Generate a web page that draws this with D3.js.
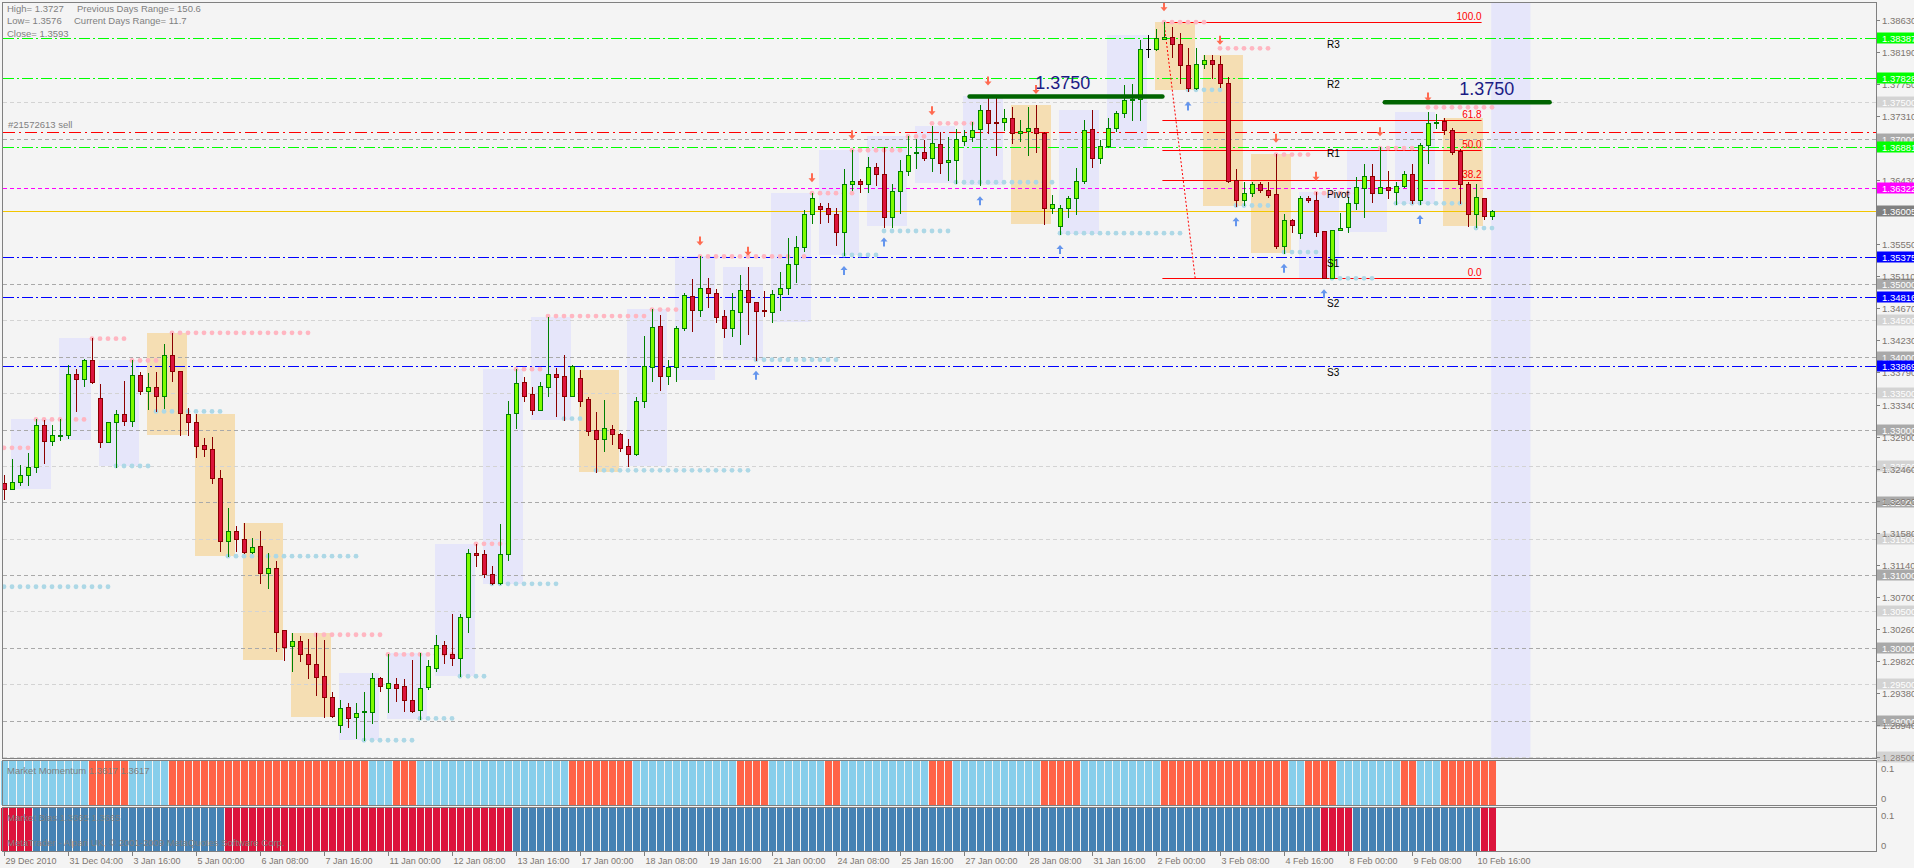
<!DOCTYPE html>
<html><head><meta charset="utf-8">
<script src="https://cdn.jsdelivr.net/npm/d3@7"></script>
<style>
html,body{margin:0;padding:0;background:#f4f4f4;overflow:hidden;}
svg{display:block;}
text{font-family:"Liberation Sans",Arial,sans-serif;}
</style></head><body>
<svg id="c" width="1914" height="868"></svg>
<script>
// ---------- DATA (EURUSD H4, 29 Dec 2010 20:00 .. 11 Feb 2011 00:00) ----------
const opens = [1.3227,1.3219,1.3228,1.3237,1.3248,1.3307,1.3284,1.3292,1.3292,1.3376,
1.3370,1.3395,1.3344,1.3283,1.3311,1.3322,1.3312,1.3375,1.3353,1.3358,
1.3346,1.3402,1.3380,1.3322,1.3311,1.3279,1.3273,1.3234,1.3147,1.3161,
1.3150,1.3132,1.3140,1.3103,1.3110,1.3024,1.3002,1.3009,1.2991,1.2978,
1.2961,1.2932,1.2894,1.2919,1.2905,1.2912,1.2912,1.2958,1.2945,1.2951,
1.2947,1.2929,1.2915,1.2946,1.2973,1.3004,1.2992,1.2986,1.3043,1.3131,
1.3129,1.3102,1.3089,1.3129,1.3323,1.3365,1.3349,1.3327,1.3359,1.3377,
1.3374,1.3346,1.3371,1.3342,1.3299,1.3287,1.3301,1.3294,1.3277,1.3267,
1.3339,1.3386,1.3442,1.3373,1.3386,1.3440,1.3484,1.3465,1.3494,1.3488,
1.3456,1.3439,1.3462,1.3492,1.3476,1.3464,1.3462,1.3487,1.3495,1.3527,
1.3551,1.3596,1.3607,1.3604,1.3597,1.3572,1.3638,1.3642,1.3638,1.3661,
1.3651,1.3592,1.3628,1.3656,1.3681,1.3682,1.3674,1.3692,1.3668,1.3671,
1.3697,1.3702,1.3713,1.3739,1.3723,1.3723,1.3728,1.3707,1.3711,1.3714,
1.3707,1.3604,1.3580,1.3605,1.3618,1.3642,1.3713,1.3674,1.3690,1.3715,
1.3735,1.3753,1.3755,1.3823,1.3823,1.3837,1.3840,1.3830,1.3801,1.3770,
1.3803,1.3808,1.3803,1.3777,1.3643,1.3615,1.3625,1.3637,1.3630,1.3624,
1.3552,1.3588,1.3570,1.3619,1.3616,1.3573,1.3508,1.3574,1.3578,1.3612,
1.3632,1.3649,1.3625,1.3634,1.3627,1.3635,1.3651,1.3615,1.3691,1.3722,
1.3724,1.3712,1.3683,1.3638,1.3597,1.3619,1.3593];
const highs = [1.3238,1.3260,1.3251,1.3268,1.3315,1.3313,1.3306,1.3315,1.3389,1.3383,
1.3397,1.3426,1.3362,1.3311,1.3327,1.3367,1.3395,1.3379,1.3378,1.3379,
1.3417,1.3433,1.3380,1.3330,1.3321,1.3288,1.3290,1.3245,1.3192,1.3168,
1.3171,1.3151,1.3160,1.3131,1.3119,1.3024,1.3021,1.3016,1.3012,1.3020,
1.3011,1.2940,1.2929,1.2924,1.2924,1.2940,1.2965,1.2960,1.2992,1.2959,
1.2957,1.2983,1.2993,1.2983,1.3018,1.3009,1.3046,1.3047,1.3136,1.3143,
1.3135,1.3112,1.3170,1.3339,1.3383,1.3372,1.3359,1.3365,1.3455,1.3384,
1.3402,1.3389,1.3382,1.3345,1.3324,1.3341,1.3306,1.3296,1.3287,1.3345,
1.3429,1.3466,1.3457,1.3396,1.3443,1.3488,1.3507,1.3538,1.3508,1.3493,
1.3465,1.3488,1.3513,1.3524,1.3476,1.3491,1.3492,1.3517,1.3564,1.3566,
1.3602,1.3625,1.3612,1.3612,1.3604,1.3658,1.3684,1.3645,1.3675,1.3666,
1.3688,1.3638,1.3670,1.3703,1.3700,1.3698,1.3717,1.3709,1.3702,1.3713,
1.3712,1.3723,1.3746,1.3758,1.3758,1.3741,1.3743,1.3726,1.3743,1.3746,
1.3709,1.3622,1.3609,1.3621,1.3660,1.3726,1.3739,1.3698,1.3728,1.3738,
1.3774,1.3775,1.3836,1.3842,1.3850,1.3860,1.3854,1.3845,1.3825,1.3824,
1.3815,1.3815,1.3814,1.3785,1.3658,1.3641,1.3641,1.3641,1.3641,1.3679,
1.3597,1.3590,1.3621,1.3621,1.3627,1.3573,1.3574,1.3598,1.3620,1.3647,
1.3665,1.3665,1.3688,1.3656,1.3641,1.3656,1.3665,1.3694,1.3736,1.3734,
1.3728,1.3715,1.3686,1.3641,1.3637,1.3619,1.3602];
const lows = [1.3205,1.3219,1.3224,1.3224,1.3242,1.3254,1.3279,1.3286,1.3288,1.3326,
1.3360,1.3364,1.3276,1.3283,1.3249,1.3306,1.3305,1.3349,1.3329,1.3325,
1.3330,1.3367,1.3293,1.3293,1.3263,1.3264,1.3227,1.3133,1.3126,1.3133,
1.3131,1.3131,1.3089,1.3082,1.2996,1.2983,1.2968,1.2982,1.2959,1.2935,
1.2905,1.2905,1.2884,1.2891,1.2876,1.2873,1.2897,1.2941,1.2912,1.2927,
1.2913,1.2912,1.2902,1.2944,1.2968,1.2979,1.2976,1.2962,1.3022,1.3113,
1.3098,1.3088,1.3088,1.3121,1.3302,1.3340,1.3321,1.3327,1.3346,1.3319,
1.3313,1.3346,1.3332,1.3293,1.3242,1.3270,1.3280,1.3270,1.3250,1.3265,
1.3331,1.3367,1.3354,1.3362,1.3367,1.3437,1.3435,1.3456,1.3468,1.3448,
1.3427,1.3429,1.3417,1.3431,1.3396,1.3456,1.3448,1.3464,1.3487,1.3503,
1.3545,1.3584,1.3584,1.3586,1.3554,1.3540,1.3630,1.3626,1.3626,1.3636,
1.3579,1.3579,1.3598,1.3650,1.3660,1.3671,1.3656,1.3653,1.3643,1.3639,
1.3691,1.3697,1.3636,1.3708,1.3677,1.3712,1.3694,1.3696,1.3677,1.3682,
1.3583,1.3598,1.3569,1.3592,1.3597,1.3639,1.3661,1.3667,1.3688,1.3711,
1.3729,1.3726,1.3726,1.3812,1.3822,1.3837,1.3812,1.3776,1.3766,1.3768,
1.3797,1.3783,1.3771,1.3641,1.3607,1.3609,1.3621,1.3626,1.3620,1.3550,
1.3543,1.3571,1.3563,1.3613,1.3566,1.3508,1.3508,1.3574,1.3571,1.3603,
1.3592,1.3613,1.3625,1.3619,1.3610,1.3633,1.3611,1.3610,1.3667,1.3715,
1.3706,1.3679,1.3612,1.3580,1.3579,1.3590,1.3590];
const closes = [1.3219,1.3228,1.3238,1.3248,1.3307,1.3284,1.3292,1.3293,1.3376,1.3370,
1.3395,1.3366,1.3283,1.3311,1.3322,1.3312,1.3375,1.3353,1.3358,1.3346,
1.3402,1.3380,1.3323,1.3310,1.3278,1.3273,1.3234,1.3147,1.3161,1.3150,
1.3132,1.3138,1.3103,1.3110,1.3022,1.3001,1.3009,1.2991,1.2978,1.2960,
1.2932,1.2906,1.2918,1.2904,1.2911,1.2913,1.2958,1.2948,1.2952,1.2945,
1.2929,1.2913,1.2945,1.2975,1.3004,1.2992,1.2986,1.3043,1.3131,1.3128,
1.3102,1.3089,1.3129,1.3322,1.3364,1.3346,1.3327,1.3360,1.3377,1.3372,
1.3346,1.3388,1.3340,1.3298,1.3287,1.3302,1.3294,1.3275,1.3267,1.3339,
1.3388,1.3441,1.3373,1.3386,1.3440,1.3485,1.3465,1.3494,1.3488,1.3455,
1.3439,1.3464,1.3492,1.3475,1.3463,1.3463,1.3487,1.3495,1.3527,1.3551,
1.3597,1.3619,1.3603,1.3597,1.3572,1.3638,1.3642,1.3638,1.3661,1.3651,
1.3592,1.3628,1.3656,1.3677,1.3682,1.3674,1.3694,1.3666,1.3671,1.3699,
1.3703,1.3712,1.3739,1.3722,1.3722,1.3728,1.3707,1.3711,1.3714,1.3707,
1.3604,1.3610,1.3605,1.3618,1.3642,1.3712,1.3674,1.3690,1.3715,1.3735,
1.3753,1.3755,1.3823,1.3823,1.3838,1.3839,1.3830,1.3801,1.3770,1.3803,
1.3808,1.3803,1.3777,1.3642,1.3615,1.3625,1.3637,1.3630,1.3623,1.3552,
1.3588,1.3581,1.3619,1.3615,1.3572,1.3508,1.3574,1.3577,1.3612,1.3633,
1.3649,1.3625,1.3633,1.3629,1.3635,1.3651,1.3615,1.3691,1.3722,1.3723,
1.3712,1.3682,1.3638,1.3597,1.3620,1.3593,1.3600];

// first bar index of each trading day
const dayStarts = [1,7,12,18,24,30,36,42,48,54,60,66,72,78,84,90,96,102,108,114,120,126,132,138,144,150,156,162,168,174,180,186];

// time axis labels, one every 8 bars
const timeLabels = ["29 Dec 2010","31 Dec 04:00","3 Jan 16:00","5 Jan 00:00","6 Jan 08:00","7 Jan 16:00","11 Jan 00:00","12 Jan 08:00","13 Jan 16:00","17 Jan 00:00","18 Jan 08:00","19 Jan 16:00","21 Jan 00:00","24 Jan 08:00","25 Jan 16:00","27 Jan 00:00","28 Jan 08:00","31 Jan 16:00","2 Feb 00:00","3 Feb 08:00","4 Feb 16:00","8 Feb 00:00","9 Feb 08:00","10 Feb 16:00"];

// price axis tick labels
const priceTickLabels = ["1.38630","1.38190","1.37750","1.37310","1.36870","1.36430","1.35990","1.35550","1.35110","1.34670","1.34230","1.33790","1.33340","1.32900","1.32460","1.32020","1.31580","1.31140","1.30700","1.30260","1.29820","1.29380","1.28940","1.28500"];

// round-number levels drawn as dashed lines
const roundLevels = [1.285,1.29,1.295,1.30,1.305,1.31,1.315,1.32,1.325,1.33,1.335,1.34,1.345,1.35,1.37,1.375];

// daily pivots
const pivotNames  = ["R3","R2","R1","Pivot","S1","S2","S3"];
const pivotValues = [1.38387,1.37828,1.36881,1.36322,1.35375,1.34816,1.33869];

const sellOrderPrice = 1.3709;
const bidPrice = 1.36005;

// fibonacci retracement
const fibHigh = 1.3860, fibLow = 1.3508;
const fibLevels = [0, 0.382, 0.5, 0.618, 1];
const fibLabels = ["0.0","38.2","50.0","61.8","100.0"];
const fibSpan = [144.8, 184.7];
const fibDiag = [145, 148.9];

// fractal resistance / support dot runs: [firstBar, lastBar, price]
const resistRuns = [[0,3,1.3275],[4,10,1.3314],[11,15,1.3425],[16,19,1.3395],[21,38,1.3433],[39,47,1.3018],[48,57,1.2991],[59,63,1.3143],[64,67,1.3383],[68,80,1.3456],[81,85,1.3465],[87,100,1.3538],[101,106,1.3625],[106,112,1.3684],[113,115,1.3703],[116,121,1.3721],[145,150,1.3860],[152,158,1.3824],[159,163,1.3678],[164,169,1.3625],[172,177,1.3687],[178,186,1.3743]];
const supportRuns = [[0,13,1.3084],[14,18,1.3250],[19,27,1.3325],[28,44,1.3126],[45,51,1.2873],[52,56,1.2903],[57,60,1.2961],[61,69,1.3088],[70,72,1.3315],[74,93,1.3244],[94,104,1.3396],[105,109,1.3540],[110,118,1.3573],[119,131,1.3640],[132,147,1.3570],[148,152,1.3767],[154,158,1.3608],[160,164,1.3544],[166,171,1.3508],[174,183,1.3611],[184,186,1.3577]];

// fractal arrows (bar indices)
const downArrows = [87,93,101,106,116,123,129,145,152,159,164,172,178];
const upArrows   = [94,105,110,122,132,148,154,160,165,177];

// hand-drawn trend lines with labels: [startBar, endBar, price, labelBar]
const levelLines = [[120.7,144.8,1.3758,128.9],[172.6,193.2,1.3750,181.9]];
const levelText = "1.3750";

// current session highlight (bars)
const sessionSpan = [185.9, 190.8];

// indicator runs: [firstBar, lastBar, state]
const momentumRuns = [[0,10,1],[11,15,0],[16,20,1],[21,45,0],[46,48,1],[49,51,0],[52,70,1],[71,78,0],[79,91,1],[92,95,0],[96,102,1],[103,104,0],[105,115,1],[116,118,0],[119,129,1],[130,134,0],[135,144,1],[145,160,0],[161,162,1],[163,166,0],[167,174,1],[175,176,0],[177,179,1],[180,186,0]];
const biasRuns = [[0,3,0],[4,27,1],[28,63,0],[64,164,1],[165,168,0],[169,184,1],[185,186,0]];

const infoLines = [["High= 1.3727","Previous Days Range= 150.6"],["Low= 1.3576","Current Days Range= 11.7"],["Close= 1.3593",""]];

// ---------- DRAWING ----------
const svg = d3.select('#c');
const x = d3.scaleLinear().domain([0,234]).range([4,1876]);
const y = d3.scaleLinear().domain([1.2850,1.3863]).range([757,20]);
const L = 3, R = 1876, T = 3, B = 758;
const PX = v => Math.round(v) + 0.5;

svg.append('rect').attr('width',1914).attr('height',868).attr('fill','#f4f4f4');
const defs = svg.append('defs');
defs.append('clipPath').attr('id','mc').append('rect').attr('x',L).attr('y',T).attr('width',R-L).attr('height',B-T);
const g = svg.append('g').attr('clip-path','url(#mc)');

// daily range boxes
for (let k=0;k<dayStarts.length;k++){
  const s = dayStarts[k];
  const e = k<dayStarts.length-1 ? dayStarts[k+1]-1 : opens.length-1;
  if (e<=s) continue;
  const hi = d3.max(highs.slice(s,e+1)), lo = d3.min(lows.slice(s,e+1));
  const up = closes[e] >= opens[s];
  g.append('rect').attr('x',Math.round(x(s))-1).attr('width',Math.round(x(e)-x(s)))
    .attr('y',Math.round(y(hi))).attr('height',Math.round(y(lo)-y(hi)))
    .attr('fill', up ? '#e6e6fa' : '#f5deb3');
}
// session highlight
g.append('rect').attr('x',x(sessionSpan[0])).attr('width',x(sessionSpan[1])-x(sessionSpan[0]))
  .attr('y',T).attr('height',B-T).attr('fill','#e6e6fa');

function hline(p,color,dash,w){
  g.append('line').attr('x1',L).attr('x2',R).attr('y1',PX(y(p))).attr('y2',PX(y(p)))
   .attr('stroke',color).attr('stroke-width',w||1).attr('stroke-dasharray',dash||null);
}
roundLevels.forEach(v=>{
  const major = Math.round(v*1000)%10===0;
  hline(v, major ? '#a9a9a9' : '#d3d3d3', '4,3');
});
pivotValues.forEach((v,i)=>{
  const n = pivotNames[i];
  if (n==='Pivot') hline(v,'#ff00ff','4,3');
  else if (n[0]==='R') hline(v,'#00ff00','11,3,2,3');
  else hline(v,'#0000ff','11,3,2,3');
});
hline(sellOrderPrice,'#ff0000','12,4,2,4');
hline(bidPrice,'#f2c500',null);

// fibonacci
const fibPrice = f => fibLow + f*(fibHigh-fibLow);
fibLevels.forEach((f,i)=>{
  const yy = PX(y(fibPrice(f)));
  g.append('line').attr('x1',x(fibSpan[0])).attr('x2',x(fibSpan[1])).attr('y1',yy).attr('y2',yy)
   .attr('stroke','#ff0000').attr('stroke-width',1);
  g.append('text').attr('x',x(fibSpan[1])).attr('y',yy-3).attr('text-anchor','end')
   .attr('font-size',10).attr('fill','#ff0000').text(fibLabels[i]);
});
g.append('line').attr('x1',x(fibDiag[0])).attr('y1',y(fibHigh)).attr('x2',x(fibDiag[1])).attr('y2',y(fibLow))
  .attr('stroke','#ff0000').attr('stroke-width',1).attr('stroke-dasharray','2,2');

// fractal dots
function dots(runs,color){
  runs.forEach(([a,b,p])=>{
    for(let i=a;i<=b;i++){
      g.append('circle').attr('cx',x(i)).attr('cy',y(p)).attr('r',2.4).attr('fill',color);
    }
  });
}
dots(resistRuns,'#ffb6c1');
dots(supportRuns,'#add8e6');

// candles
const idx = d3.range(opens.length);
const cg = g.append('g').attr('shape-rendering','crispEdges');
idx.forEach(i=>{
  const o=opens[i],h=highs[i],l=lows[i],c=closes[i];
  const cx = Math.round(x(i));
  let body, edge;
  if (c>o){ body='#7cfc00'; edge='#008000'; }
  else if (c<o){ body='#dc143c'; edge='#8b0000'; }
  else { body='#000'; edge='#000'; }
  cg.append('line').attr('x1',cx+0.5).attr('x2',cx+0.5).attr('y1',Math.round(y(h))).attr('y2',Math.round(y(l))+1)
    .attr('stroke',edge).attr('stroke-width',1);
  const top = Math.round(y(Math.max(o,c))), bot = Math.round(y(Math.min(o,c)));
  if (c===o){
    cg.append('line').attr('x1',cx-2).attr('x2',cx+3).attr('y1',top+0.5).attr('y2',top+0.5).attr('stroke',edge);
  } else {
    cg.append('rect').attr('x',cx-2+0.5).attr('y',top+0.5).attr('width',4).attr('height',Math.max(1,bot-top))
      .attr('fill',body).attr('stroke',edge).attr('stroke-width',1);
  }
});

// arrows
function arrow(cx,cy,dir,color){
  const s = dir; // 1 = down, -1 = up
  const p = `M${cx-1},${cy-5*s} L${cx+1},${cy-5*s} L${cx+1},${cy} L${cx+3.5},${cy} L${cx},${cy+4*s} L${cx-3.5},${cy} L${cx-1},${cy} Z`;
  g.append('path').attr('d',p).attr('fill',color);
}
downArrows.forEach(i=>arrow(x(i),y(highs[i])-15,1,'#ff6a50'));
upArrows.forEach(i=>arrow(x(i),y(lows[i])+15,-1,'#6495ed'));

// level lines
levelLines.forEach(([a,b,p,lb])=>{
  g.append('line').attr('x1',x(a)).attr('x2',x(b)).attr('y1',y(p)).attr('y2',y(p))
    .attr('stroke','#006400').attr('stroke-width',4.5).attr('stroke-linecap','round');
  g.append('text').attr('x',x(lb)).attr('y',y(p)-7).attr('font-size',18).attr('fill','#1c1c84').text(levelText);
});

// pivot labels
pivotValues.forEach((v,i)=>{
  g.append('text').attr('x',1327).attr('y',y(v)+10).attr('font-size',10).attr('fill','#000').text(pivotNames[i]);
});

// info text
infoLines.forEach((ln,i)=>{
  g.append('text').attr('x',7).attr('y',12+i*12.3).attr('font-size',9.5).attr('fill','#808080').text(ln[0]);
  if (ln[1]) g.append('text').attr('x',i===0?77:74).attr('y',12+i*12.3).attr('font-size',9.5).attr('fill','#808080').text(ln[1]);
});
g.append('text').attr('x',8).attr('y',y(sellOrderPrice)-4).attr('font-size',9.5).attr('fill','#808080').text('#21572613 sell');

// ---------- PANELS ----------
const frame = (yy,h)=> svg.append('rect').attr('x',2.5).attr('y',yy).attr('width',R-2.5+0.5).attr('height',h)
  .attr('fill','none').attr('stroke','#808080').attr('stroke-width',1);

// indicator bars
function hist(runs,y0,y1,c1,c0){
  runs.forEach(([a,b,s])=>{
    for(let i=a;i<=b;i++){
      const cx = Math.round(x(i));
      svg.append('rect').attr('x',cx-3).attr('width',7).attr('y',y0).attr('height',y1-y0)
        .attr('fill', s ? c1 : c0).attr('shape-rendering','crispEdges');
    }
  });
}
hist(momentumRuns,761,805,'#87ceeb','#ff6347');
hist(biasRuns,808,851,'#4682b4','#dc143c');

frame(2.5,756);
frame(760.5,45);
frame(807.5,44);

svg.append('text').attr('x',7).attr('y',774).attr('font-size',9.5).attr('fill','#7f7f7f').text('Market Momentum 1.3617 1.3617');
svg.append('text').attr('x',7).attr('y',821).attr('font-size',9.5).attr('fill','#7f7f7f').text('Market Bias 1.3665 1.3665');
svg.append('text').attr('x',7).attr('y',846).attr('font-size',9.5).attr('fill','#7f7f7f').text('MetaTrader - Alpari UK, \u00a9 2001-2009 MetaQuotes Software Corp.');

// indicator axes
const axCol = '#7d7670';
[[768,'0.1'],[798,'0'],[815,'0.1'],[845,'0']].forEach(([yy,t])=>{
  svg.append('text').attr('x',1881).attr('y',yy+3.5).attr('font-size',9.5).attr('fill',axCol).text(t);
});

// time axis
timeLabels.forEach((t,k)=>{
  const xx = Math.round(x(k*8))+0.5;
  svg.append('line').attr('x1',xx).attr('x2',xx).attr('y1',851.5).attr('y2',856).attr('stroke','#808080');
  svg.append('text').attr('x',xx+1).attr('y',864).attr('font-size',9).attr('fill',axCol).text(t);
});

// price axis: round-number labels underneath
function plabel(v,bg,fg){
  const yy = Math.round(y(v));
  svg.append('rect').attr('x',1877).attr('y',yy-5.5).attr('width',40).attr('height',11).attr('fill',bg);
  svg.append('text').attr('x',1882).attr('y',yy+3.5).attr('font-size',9.5).attr('fill',fg).text(v.toFixed(5));
}
roundLevels.forEach(v=>{
  const major = Math.round(v*1000)%10===0;
  plabel(v, major ? '#a9a9a9' : '#d3d3d3', '#ffffff');
});
priceTickLabels.forEach(t=>{
  const v = +t, yy = Math.round(y(v))+0.5;
  svg.append('line').attr('x1',1876).attr('x2',1880).attr('y1',yy).attr('y2',yy).attr('stroke','#808080');
  svg.append('text').attr('x',1882).attr('y',yy+3.5).attr('font-size',9.5).attr('fill',axCol).text(t);
});
pivotValues.forEach((v,i)=>{
  const n = pivotNames[i];
  plabel(v, n==='Pivot' ? '#ff00ff' : (n[0]==='R' ? '#00ff00' : '#0000ff'), '#ffffff');
});
plabel(bidPrice,'#808080','#ffffff');
</script>
</body></html>
